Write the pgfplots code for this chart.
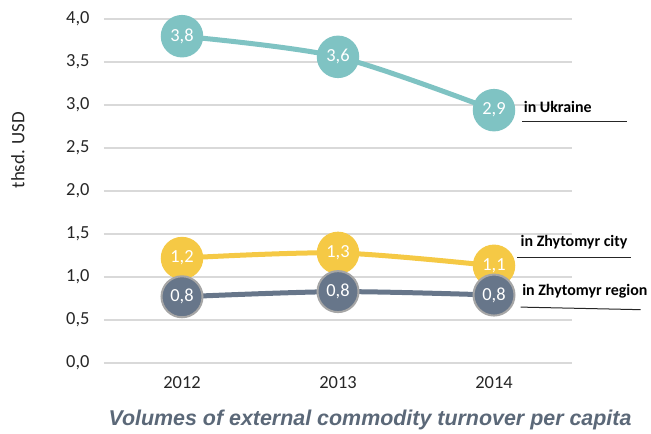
\documentclass[border=0pt]{standalone}
\usepackage{pgfplots}
\pgfplotsset{compat=1.18}
\usepackage{fontspec}
\setmainfont{Carlito}
\newfontfamily\titlefont{Liberation Sans}
\definecolor{ukr}{HTML}{7FC3C3}
\definecolor{city}{HTML}{F5C945}
\definecolor{reg}{HTML}{67768A}
\definecolor{gridc}{HTML}{D9D9D9}
\definecolor{titlec}{HTML}{5B6878}

\begin{document}
\begin{tikzpicture}
\begin{axis}[
    at={(0,0)}, anchor=south west,
    scale only axis, width=468bp, height=344bp,
    xmin=-0.5, xmax=2.5, ymin=0, ymax=4,
    xtick={0,1,2}, xticklabels={2012,2013,2014},
    ytick={0,0.5,1,1.5,2,2.5,3,3.5,4},
    ymajorgrids, grid style={gridc, line width=1.5bp},
    axis line style={draw=none}, tick style={draw=none},
    tick label style={font=\fontsize{18.5}{22}\selectfont, text=black!85},
    xticklabel style={yshift=-10bp},
    yticklabel style={xshift=-11bp, /pgf/number format/.cd, use comma, fixed, fixed zerofill, precision=1},
    /pgf/number format/assume math mode=true,
    clip=false,
    nodes near coords, point meta=explicit symbolic,
    nodes near coords align={center},
    every node near coord/.append style={anchor=center, text=white, font=\fontsize{18.5}{22}\selectfont},
]
% in Ukraine
\addplot[ukr, line width=5bp, smooth, tension=0.5, mark=*, mark size=20.5bp,
    mark options={fill=ukr, draw=ukr, line width=1.5bp}]
    coordinates {(0,3.80)[3,8] (1,3.56)[3,6] (2,2.94)[2,9]};
% in Zhytomyr city
\addplot[city, line width=5bp, smooth, tension=0.5, mark=*, mark size=20.5bp,
    mark options={fill=city, draw=city, line width=1.5bp}]
    coordinates {(0,1.22)[1,2] (1,1.28)[1,3] (2,1.13)[1,1]};
% in Zhytomyr region
\addplot[reg, line width=5bp, smooth, tension=0.5, mark=*, mark size=20.5bp,
    mark options={fill=reg, draw=black!35, line width=2bp}]
    coordinates {(0,0.77)[0,8] (1,0.83)[0,8] (2,0.79)[0,8]};

\node[anchor=west, inner sep=0, font=\bfseries\fontsize{16}{18}\selectfont] at (axis cs:2.19,2.98) {in Ukraine};
\draw[black!85, line width=1bp] (axis cs:2.18,2.81) -- (axis cs:2.85,2.81);
\node[anchor=west, inner sep=0, font=\bfseries\fontsize{16}{18}\selectfont] at (axis cs:2.17,1.40) {in Zhytomyr city};
\draw[black!85, line width=1bp] (axis cs:2.15,1.23) -- (axis cs:2.88,1.23);
\node[anchor=west, inner sep=0, font=\bfseries\fontsize{16}{18}\selectfont] at (axis cs:2.18,0.83) {in Zhytomyr region};
\draw[black!85, line width=1bp] (axis cs:2.17,0.65) -- (axis cs:2.94,0.62);
\end{axis}
\node[font=\titlefont\bfseries\itshape\fontsize{21.5}{25}\selectfont, text=titlec] at (266bp,-57bp) {Volumes of external commodity turnover per capita};
\node[rotate=90, font=\fontsize{19}{22}\selectfont, text=black!85] at (-86bp,213bp) {thsd. USD};
\path[use as bounding box] (-104bp,-71bp) rectangle (547bp,363bp);
\end{tikzpicture}
\end{document}
